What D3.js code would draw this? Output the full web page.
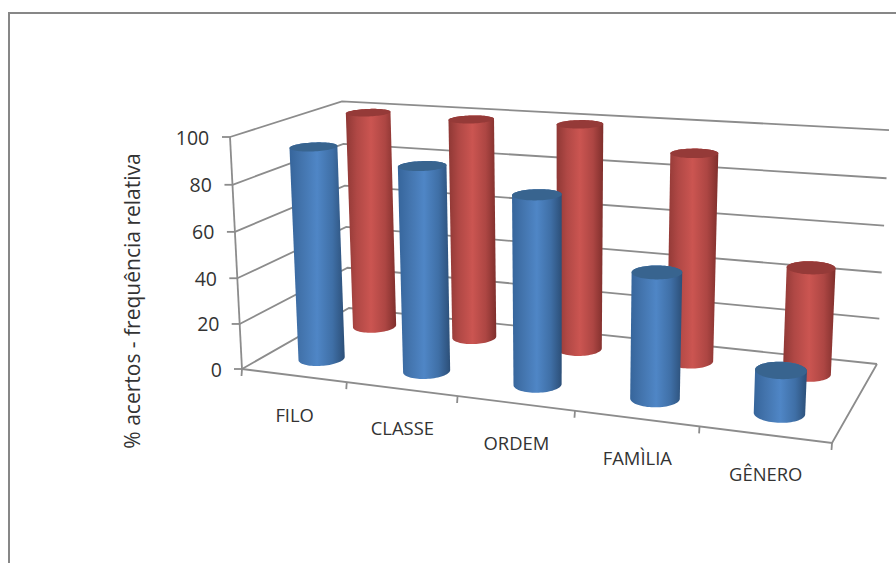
<!DOCTYPE html>
<html>
<head>
<meta charset="utf-8">
<script src="https://cdnjs.cloudflare.com/ajax/libs/d3/7.8.5/d3.min.js"></script>
<style>
  html, body { margin: 0; padding: 0; background: #fff; }
  svg { display: block; }
  text { font-family: "Open Sans", "Noto Sans", sans-serif; fill: #333; }
</style>
</head>
<body>
<svg id="chart" width="896" height="563"></svg>
<script>
// Chart data
const categories = ["FILO", "CLASSE", "ORDEM", "FAMÌLIA", "GÊNERO"];
const seriesNames = ["front", "back"];
const frontValues = [93, 88, 79.5, 52, 17.5];
const backValues = [99.5, 99, 99.5, 90, 45.5];
const valueTicks = [0, 20, 40, 60, 80, 100];
const axisTitle = "% acertos - frequência relativa";

// Screen corners of the floor, ordered front-left, front-right, back-right, back-left,
// plus where the front-left and back-right verticals reach the top of the value range
const floorCorners = [[242, 369], [832, 443], [877, 364], [349, 308]];
const topFrontLeft = [230, 137];
const topBackRight = [889, 133];

// Camera matrix for the box: the floor homography extended with a vertical axis
function camera(q, tfl, tbr) {
  const [[x0, y0], [x1, y1], [x2, y2], [x3, y3]] = q;
  const dx1 = x1 - x2, dx2 = x3 - x2, sx = x0 - x1 + x2 - x3;
  const dy1 = y1 - y2, dy2 = y3 - y2, sy = y0 - y1 + y2 - y3;
  const det = dx1 * dy2 - dx2 * dy1;
  const g = (sx * dy2 - dx2 * sy) / det;
  const h = (dx1 * sy - sx * dy1) / det;
  const a = x1 - x0 + g * x1, b = x3 - x0 + h * x3;
  const d = y1 - y0 + g * y1, e = y3 - y0 + h * y3;
  const W = 1 + g + h;
  const i = (tfl[0] - x0 - W * (tbr[0] - x2)) / (tbr[0] - tfl[0]);
  const c = tfl[0] * (1 + i) - x0;
  const f = tfl[1] * (1 + i) - y0;
  return (u, v, t) => {
    const w = g * u + h * v + i * t + 1;
    return [(a * u + b * v + c * t + x0) / w, (d * u + e * v + f * t + y0) / w];
  };
}
const toScreen = camera(floorCorners, topFrontLeft, topBackRight);

// Model scales: u runs along the categories, v runs into the depth, h is the value height
const uBand = d3.scaleBand().domain(categories).range([0, 1]);
const vPoint = d3.scalePoint().domain(seriesNames).range([-0.01, 1.03]).padding(0.5);
const hScale = d3.scaleLinear().domain([0, 100]).range([0, 1]);

const project = (u, v, value) => toScreen(u, v, hScale(value));

const svg = d3.select("#chart");
const line = d3.line();
const gridColor = "#8c8c8c";

// Outer chart frame
svg.append("path")
  .attr("d", line([[9, 563], [9, 13], [896, 13]]))
  .attr("fill", "none").attr("stroke", "#878787").attr("stroke-width", 2);

// Gradients for the cylinder bodies
const defs = svg.append("defs");
const gradients = {
  front: [["0%", "#36659b"], ["22%", "#4374ad"], ["50%", "#4f86c6"], ["78%", "#3f6fa6"], ["100%", "#2c4f78"]],
  back: [["0%", "#8f3835"], ["22%", "#b04845"], ["50%", "#cb5551"], ["78%", "#ad4643"], ["100%", "#7f2f2c"]]
};
seriesNames.forEach(name => {
  const g = defs.append("linearGradient").attr("id", "body-" + name)
    .attr("x1", "0").attr("x2", "1").attr("y1", "0").attr("y2", "0");
  gradients[name].forEach(([o, c]) => g.append("stop").attr("offset", o).attr("stop-color", c));
});
const capColor = { front: "#38648f", back: "#953a38" };

// Walls and floor
const grid = svg.append("g").attr("fill", "none").attr("stroke", gridColor).attr("stroke-width", 1.8);
valueTicks.forEach(t => {
  grid.append("path").attr("d", line([project(0, 0, t), project(0, 1, t), project(1, 1, t)]));
  const p = project(0, 0, t);
  grid.append("path").attr("d", line([[p[0] - 8, p[1]], p]));
});
grid.append("path").attr("d", line([project(0, 0, 100), project(0, 0, 0)]));
grid.append("path").attr("d", line([project(0, 0, 0), project(1, 0, 0), project(1, 1, 0)]));

// Category tick marks along the front floor edge
const uTicks = categories.map(c => uBand(c)).concat([1]);
uTicks.forEach(u => {
  const p = project(u, 0, 0);
  grid.append("path").attr("d", line([p, [p[0] - 0.5, p[1] + 7]]));
});

// Cylinders: a circle on the floor plane swept up to the value height
const uRadius = 0.039, vRadius = 0.108;
const angles = d3.range(0, 2 * Math.PI, Math.PI / 36);
function ring(u, v, value) {
  return angles.map(a => project(u + uRadius * Math.cos(a), v + vRadius * Math.sin(a), value));
}
function drawSeries(name, values) {
  const g = svg.append("g");
  categories.forEach((c, i) => {
    const u = uBand(c) + uBand.bandwidth() / 2;
    const v = vPoint(name);
    const base = ring(u, v, 0), top = ring(u, v, values[i]);
    g.append("path")
      .attr("d", line(d3.polygonHull(base.concat(top))) + "Z")
      .attr("fill", `url(#body-${name})`);
    g.append("path")
      .attr("d", line(top) + "Z")
      .attr("fill", capColor[name]);
  });
}
drawSeries("back", backValues);
drawSeries("front", frontValues);

// Value labels
valueTicks.forEach(t => {
  const p = project(0, 0, t);
  svg.append("text").attr("x", p[0] - 20 + t * -0.008).attr("y", p[1] + 7.5)
    .attr("text-anchor", "end").attr("font-size", 19.5).text(t);
});

// Category labels
categories.forEach(c => {
  const p = project(uBand(c) + uBand.bandwidth() / 2, 0, 0);
  svg.append("text").attr("x", p[0] + 1).attr("y", p[1] + 46.5)
    .attr("text-anchor", "middle").attr("font-size", 18.4).text(c);
});

// Axis title
svg.append("text")
  .attr("transform", "translate(140,301) rotate(-90)")
  .attr("text-anchor", "middle").attr("font-size", 21).text(axisTitle);
</script>
</body>
</html>
